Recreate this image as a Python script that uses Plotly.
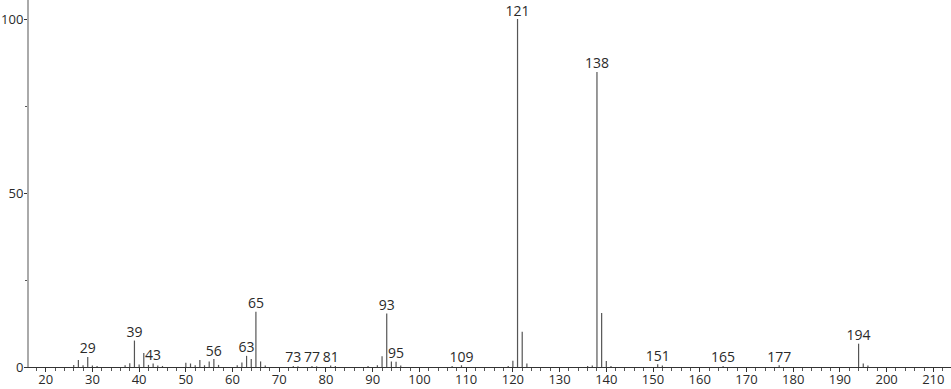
import plotly.graph_objects as go

mz = [26, 27, 28, 29, 30, 31, 37, 38, 39, 40, 41, 42, 43, 44, 45, 50, 51, 52, 53, 54, 55, 56, 57,
      61, 62, 63, 64, 65, 66, 67, 73, 74, 77, 78, 81, 82, 89, 91, 92, 93, 94, 95, 96,
      107, 109, 119, 120, 121, 122, 123, 136, 137, 138, 139, 140, 141, 151, 152, 165, 177, 194, 195, 196]
intensity = [0.6, 2.0, 0.5, 2.9, 0.4, 0.3, 0.5, 1.1, 7.6, 0.7, 4.0, 0.6, 1.0, 0.4, 0.3, 1.2, 1.0, 0.5, 2.0, 0.5, 1.6, 2.3, 0.6,
             0.5, 1.3, 3.2, 2.3, 15.9, 1.6, 0.4, 0.3, 0.2, 0.3, 0.2, 0.4, 0.3, 0.3, 0.5, 3.1, 15.4, 1.6, 1.5, 0.4,
             0.3, 0.5, 0.3, 1.8, 100.0, 10.1, 1.0, 0.3, 0.4, 84.8, 15.5, 1.7, 0.3, 0.8, 0.4, 0.3, 0.5, 6.7, 1.0, 0.4]
labelled = [29, 39, 43, 56, 63, 65, 73, 77, 81, 93, 95, 109, 121, 138, 151, 165, 177, 194]

xs, ys = [], []
for m, h in zip(mz, intensity):
    xs += [m, m, None]
    ys += [0, h, None]

lab_y = [intensity[mz.index(m)] for m in labelled]

FONT = "'Open Sans', Lato, sans-serif"
TXT = "#2a2a2a"

fig = go.Figure()
fig.add_trace(go.Scatter(x=xs, y=ys, mode="lines",
                         line=dict(color="#555555", width=1.2),
                         hoverinfo="skip", showlegend=False))
fig.add_trace(go.Scatter(x=labelled, y=lab_y, mode="text",
                         text=[str(m) for m in labelled], textposition="top center",
                         textfont=dict(family=FONT, size=14, color=TXT),
                         showlegend=False, hoverinfo="skip"))

fig.update_layout(
    width=951, height=389,
    margin=dict(l=29, r=0, t=0, b=22),
    paper_bgcolor="white", plot_bgcolor="white",
    font=dict(family=FONT, size=13, color=TXT),
)
fig.update_xaxes(range=[16.43, 213.78], tickmode="linear", tick0=20, dtick=10, automargin=False,
                 showgrid=False, zeroline=False, showline=True, linecolor="#333333", linewidth=1,
                 ticks="outside", ticklen=4, tickcolor="#333333", tickwidth=1, ticklabelstandoff=-4,
                 minor=dict(dtick=2, ticks="outside", ticklen=3, tickcolor="#555555", showgrid=False),
                 tickfont=dict(family=FONT, size=13, color=TXT))
fig.update_yaxes(range=[0, 105.46], tickvals=[0, 50, 100], ticktext=["0", "50", "100"], automargin=False,
                 showgrid=False, zeroline=False, showline=True, linecolor="#aaaaaa", linewidth=2,
                 ticks="outside", ticklen=3, tickcolor="#333333", tickwidth=1, ticklabelstandoff=-2,
                 minor=dict(tickvals=[25, 75], ticks="outside", ticklen=2, tickcolor="#555555", showgrid=False),
                 tickfont=dict(family=FONT, size=13, color=TXT))

fig.write_html("out.html")
